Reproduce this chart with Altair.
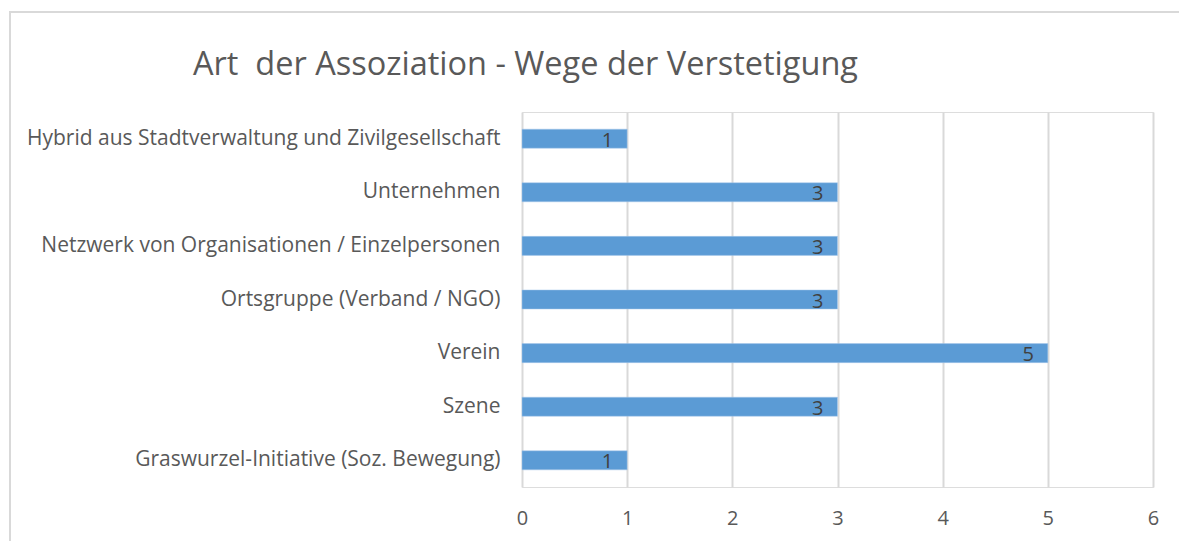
import altair as alt
import pandas as pd

categories = [
    "Hybrid aus Stadtverwaltung und Zivilgesellschaft",
    "Unternehmen",
    "Netzwerk von Organisationen / Einzelpersonen",
    "Ortsgruppe (Verband / NGO)",
    "Verein ",
    "Szene",
    "Graswurzel-Initiative (Soz. Bewegung)",
]
values = [1, 3, 3, 3, 5, 3, 1]
x_ticks = [0, 1, 2, 3, 4, 5, 6]
title_text = "Art\u00a0 der Assoziation - Wege der Verstetigung"

df = pd.DataFrame({"cat": categories, "val": values})
FONT = "Open Sans"

y_enc = alt.Y("cat:N", sort=categories, title=None,
              scale=alt.Scale(paddingInner=0.645, paddingOuter=0.32),
              axis=alt.Axis(labelFontSize=21, labelColor="#595959", labelFont=FONT,
                            labelPadding=22, ticks=False, domain=False, grid=False,
                            labelLimit=600,
                            labelExpr="replace(datum.label, / $/, '\u00a0')"))
x_enc = alt.X("val:Q", title=None,
              scale=alt.Scale(domain=[0, 6], nice=False),
              axis=alt.Axis(values=x_ticks, labelFontSize=20, labelColor="#595959",
                            labelFont=FONT, labelPadding=21, ticks=False, domain=False,
                            labelFlush=False,
                            grid=True, gridColor="#d9d9d9", gridWidth=2, format="d"))

bars = alt.Chart(df).mark_bar(color="#5B9BD5", stroke="#a9c9ea", strokeWidth=0.5).encode(x=x_enc, y=y_enc)
labels = alt.Chart(df).mark_text(align="right", baseline="middle", dx=-14, dy=2,
                                 fontSize=20, font=FONT, color="#404040").encode(
    x="val:Q", y=alt.Y("cat:N", sort=categories), text="val:Q")

border = alt.Chart(df).mark_rect(fill=None, stroke="#d9d9d9", strokeWidth=1.5).encode(
    x=alt.value(-512), x2=alt.value(700), y=alt.value(-100), y2=alt.value(500))

title = alt.Chart(pd.DataFrame({"t": [title_text]})).mark_text(
    align="left", baseline="alphabetic", fontSize=32.5, font=FONT, color="#595959").encode(
    x=alt.value(193 - 522), y=alt.value(75 - 112), text="t:N")

chart = alt.layer(border, bars, labels, title).properties(
    width=631, height=375,
    autosize=alt.AutoSizeParams(type="none"),
    padding={"left": 522, "top": 112, "right": 26, "bottom": 54},
).configure_view(stroke=None).configure(background="white")

chart.save("out.html", embed_options={"renderer": "svg", "actions": False})
